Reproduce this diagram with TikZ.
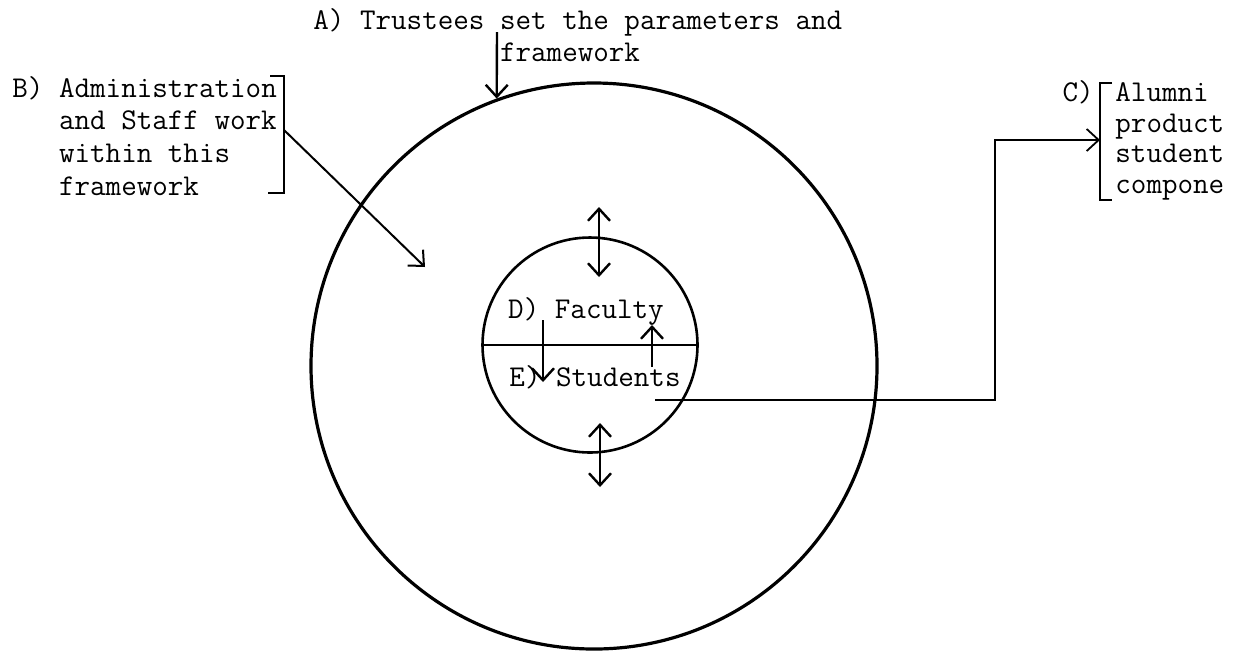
\documentclass[tikz,border=0pt]{standalone}
\usetikzlibrary{arrows.meta}
\begin{document}
\begin{tikzpicture}[x=0.5pt,y=-0.5pt,
 ring/.style={circle,draw,inner sep=0pt},
 typed/.style={inner sep=0pt,font=\fontsize{15.1}{16.3}\selectfont\ttfamily,align=left},
 barb/.style={-{Straight Barb[length=6pt,width=11pt]},line width=1.2pt},
 twoway/.style={{Straight Barb[length=6pt,width=11pt]}-{Straight Barb[length=6pt,width=11pt]},line width=1.2pt},
 brace/.style={line width=1.2pt}]
 \useasboundingbox (0,0) rectangle (1234,650);
 \clip (0,0) rectangle (1234,650);
 \node[ring,line width=1.6pt,minimum size=283pt] (outer) at (594,366) {};
 \node[ring,line width=1.3pt,minimum size=107.5pt] (inner) at (590,345) {};
 \draw[line width=0.8pt] (inner.west)--(inner.east);
 \node[typed] (faculty) at (586,311) {D) Faculty};
 \node[typed] (students) at (595,377) {E) Students};
 \node[typed,anchor=north west] (trustees) at (313,8) {A) Trustees set the parameters and\\\phantom{A) Trustees }framework};
 \node[typed,anchor=north west] (admin) at (12,76) {B) Administration\\\phantom{B) }and Staff work\\\phantom{B) }within this\\\phantom{B) }framework};
 \node[typed,anchor=east] (clabel) at (1094,92) {C)};
 \node[typed,anchor=north west,font=\fontsize{15.1}{15.4}\selectfont\ttfamily] (alumni) at (1115,82) {Alumni\\product\\student\\compone};
 \draw[brace] (270,76)--(284,76)--(284,193)--(268,193);
 \draw[brace] (1112,83)--(1100,83)--(1100,200)--(1112,200);
 \coordinate (atop) at (497,32);
 \coordinate (bstart) at (284,130);
 \coordinate (btip) at (425,267);
 \coordinate (eout) at (655,400);
 \coordinate (turn) at (995,400);
 \coordinate (cin) at (1100,140);
 \draw[barb] (atop)--(outer.110);
 \draw[barb,line width=1pt] (bstart)--(btip);
 \draw[twoway] (599,207)--(599,277);
 \draw[twoway] (600,423)--(600,487);
 \draw[barb] (543,320)--(543,382);
 \draw[barb] (652,367)--(652,325);
 \draw[barb,line width=0.9pt] (eout)--(turn)|-(cin);
\end{tikzpicture}
\end{document}
